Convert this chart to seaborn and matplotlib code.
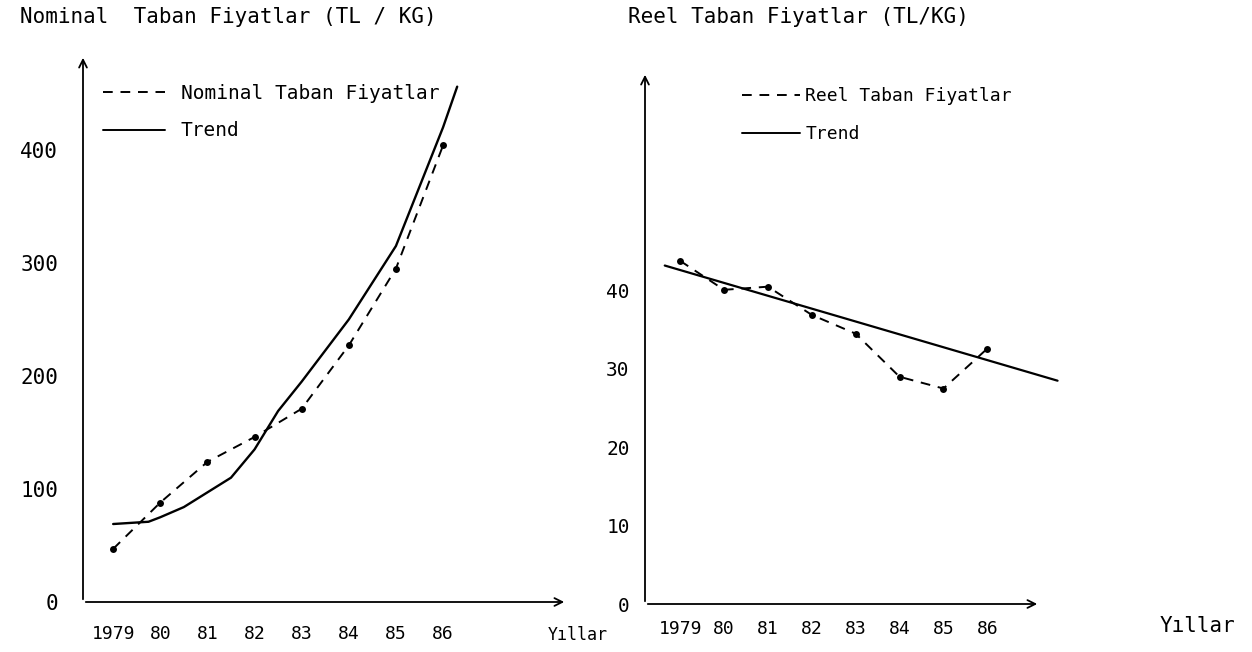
import numpy as np
import pandas as pd
import seaborn as sns
import matplotlib.pyplot as plt
from matplotlib.lines import Line2D

# values
years = ["1979", "80", "81", "82", "83", "84", "85", "86"]
nominal = [47, 88, 124, 146, 171, 227, 295, 404]
nominal_trend_pos = [0, 0.75, 1, 1.5, 2, 2.5, 3, 3.5, 4, 5, 6, 7, 7.3]
nominal_trend = [69, 71, 75, 84, 97, 110, 135, 169, 195, 250, 315, 420, 456]

real = [43.8, 40.1, 40.5, 36.9, 34.5, 29.0, 27.5, 32.6]
real_trend_pos = [-0.35, 8.6]
real_trend = [43.2, 28.5]

nominal_ticks = [0, 100, 200, 300, 400]
real_ticks = [0, 10, 20, 30, 40]

sns.set_theme(style="white")
plt.rcParams["font.family"] = ["DejaVu Sans Mono", "DejaVu Sans"]
plt.rcParams["text.color"] = "black"
plt.rcParams["xtick.color"] = "black"
plt.rcParams["ytick.color"] = "black"

W, H = 1252, 652
fig = plt.figure(figsize=(W / 100, H / 100), dpi=100)


def px_axes(x0, x1, y_bottom, y_top):
    return fig.add_axes([x0 / W, 1 - y_bottom / H, (x1 - x0) / W, (y_bottom - y_top) / H])


def style_axes(ax):
    for s in ax.spines.values():
        s.set_visible(False)
    arrow = dict(arrowstyle="->", lw=1.3, color="black", mutation_scale=14)
    ax.annotate("", xy=(0, 1), xytext=(0, 0), xycoords="axes fraction", arrowprops=arrow)
    ax.annotate("", xy=(1, 0), xytext=(0, 0), xycoords="axes fraction", arrowprops=arrow)
    ax.grid(False)


idx = np.arange(len(years))
dash = (0, (5, 4))

# ---- left panel: nominal prices
ax1 = px_axes(83, 567, 602, 55)
sns.lineplot(x=idx, y=nominal, ax=ax1, color="black", linestyle=dash, lw=1.4,
             marker="o", markersize=5, markeredgewidth=0)
sns.lineplot(x=nominal_trend_pos, y=nominal_trend, ax=ax1, color="black", lw=1.7,
             sort=False, clip_on=False)
ax1.set_xlim(-0.64, 9.63)
ax1.set_ylim(0, 484)
ax1.set_xticks(idx, years)
ax1.set_yticks(nominal_ticks, [str(t) for t in nominal_ticks])
ax1.tick_params(axis="y", length=4, width=1, direction="inout", pad=16, labelsize=15)
ax1.tick_params(axis="x", length=3, width=1, direction="inout", pad=15, labelsize=13)
style_axes(ax1)
ax1.legend(handles=[Line2D([], [], color="black", lw=1.4, linestyle=dash),
                    Line2D([], [], color="black", lw=1.4)],
           labels=["Nominal Taban Fiyatlar", "Trend"],
           loc="upper left", bbox_to_anchor=(103 / W, 1 - 84 / H),
           bbox_transform=fig.transFigure, frameon=False, fontsize=14,
           handlelength=3.2, handletextpad=0.8, labelspacing=0.95,
           borderpad=0, borderaxespad=0)

# ---- right panel: real prices
ax2 = px_axes(645, 1040, 604, 72)
sns.lineplot(x=idx, y=real, ax=ax2, color="black", linestyle=dash, lw=1.4,
             marker="o", markersize=5, markeredgewidth=0)
sns.lineplot(x=real_trend_pos, y=real_trend, ax=ax2, color="black", lw=1.6,
             sort=False, clip_on=False)
ax2.set_xlim(-0.80, 8.2)
ax2.set_ylim(0, 67.9)
ax2.set_xticks(idx, years)
ax2.set_yticks(real_ticks, [str(t) for t in real_ticks])
ax2.tick_params(axis="y", length=4, width=1, direction="inout", pad=9, labelsize=14)
ax2.tick_params(axis="x", length=3, width=1, direction="inout", pad=10, labelsize=13)
style_axes(ax2)
ax2.legend(handles=[Line2D([], [], color="black", lw=1.4, linestyle=dash),
                    Line2D([], [], color="black", lw=1.4)],
           labels=["Reel Taban Fiyatlar", "Trend"],
           loc="upper left", bbox_to_anchor=(742 / W, 1 - 87 / H),
           bbox_transform=fig.transFigure, frameon=False, fontsize=13,
           handlelength=3.2, handletextpad=0.3, labelspacing=1.1,
           borderpad=0, borderaxespad=0)

# titles and axis names
fig.text(20 / W, 1 - 17 / H, "Nominal  Taban Fiyatlar (TL / KG)", fontsize=15,
         ha="left", va="center")
fig.text(628 / W, 1 - 17 / H, "Reel Taban Fiyatlar (TL/KG)", fontsize=15,
         ha="left", va="center")
fig.text(548 / W, 1 - 635 / H, "Yıllar", fontsize=12, ha="left", va="center")
fig.text(1160 / W, 1 - 626 / H, "Yıllar", fontsize=15, ha="left", va="center")

fig.savefig("out.png", dpi=100)
